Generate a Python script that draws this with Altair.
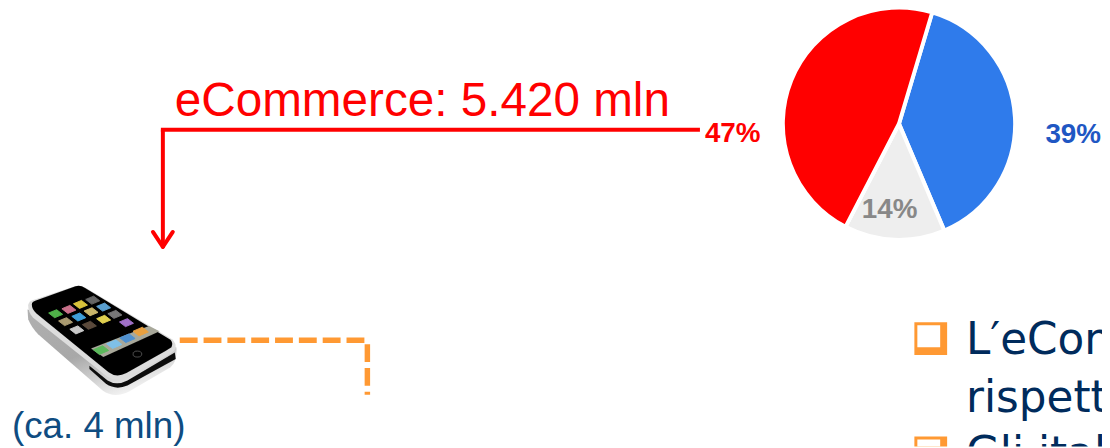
import urllib.parse
import altair as alt
import pandas as pd

shares = [39, 14, 47]
share_labels = ["39%", "14%", "47%"]
share_order = [0, 1, 2]
share_colors = ["#2F7BEB", "#EEEEEE", "#FF0000"]
headline = "eCommerce: 5.420 mln"
phone_note = "(ca. 4 mln)"
bullets = ["L\u2032eCommerce", "rispetto", "Gli italiani"]

ORANGE = "#FF9933"
RED = "#FF0000"
OX, OY = 8, 8  # page margin


def X(v):
    return alt.value(v - OX)


def Y(v):
    return alt.value(v - OY)


one = pd.DataFrame({"k": [0]})


def rule(x1, y1, x2, y2, color, w, dash=None, cap="butt"):
    kw = dict(color=color, strokeWidth=w, strokeCap=cap)
    if dash:
        kw["strokeDash"] = dash
    return alt.Chart(one).mark_rule(**kw).encode(x=X(x1), x2=X(x2), y=Y(y1), y2=Y(y2))


def label(txt, x, y, size, color, weight="normal", align="left", font="Liberation Sans"):
    return alt.Chart(one).mark_text(
        text=txt, fontSize=size, color=color, fontWeight=weight, align=align,
        baseline="alphabetic", font=font, clip=True,
    ).encode(x=X(x), y=Y(y))


def box(x1, y1, x2, y2, color):
    return alt.Chart(one).mark_rect(color=color, clip=True).encode(x=X(x1), x2=X(x2), y=Y(y1), y2=Y(y2))


pie_df = pd.DataFrame({"share": shares, "label": share_labels, "o": share_order})
pie = alt.Chart(pie_df).mark_arc(outerRadius=117, stroke="white", strokeWidth=4).encode(
    theta=alt.Theta("share:Q", stack=True, scale=alt.Scale(domain=[0, 100], range=[0.29, 6.573])),
    order=alt.Order("o:Q"),
    color=alt.Color("label:N", scale=alt.Scale(domain=share_labels, range=share_colors), legend=None),
    x=X(905.5), y=Y(123),
)


def para(cx, cy, ux, uy, vx, vy, fill):
    pts = [
        (cx - ux - vx, cy - uy - vy), (cx + ux - vx, cy + uy - vy),
        (cx + ux + vx, cy + uy + vy), (cx - ux + vx, cy - uy + vy),
    ]
    s = " ".join(f"{a:.1f},{b:.1f}" for a, b in pts)
    return f'<polygon points="{s}" fill="{fill}" stroke="{fill}" stroke-width="3" stroke-linejoin="round"/>'


icons = [
    (168, 133, "#4fb04a"), (208, 120, "#c9708a"), (243, 105, "#d8c23a"), (280, 92, "#666666"),
    (198, 157, "#a99a70"), (238, 143, "#3f9fd8"), (275, 127, "#c9b56a"), (313, 113, "#5a9fd0"),
    (232, 182, "#c8c8c8"), (270, 168, "#5a4a3a"), (313, 150, "#e0d050"), (347, 135, "#777777"),
    (382, 160, "#a070c8"),
]
dock = [(305, 243, "#5cb85c"), (345, 225, "#7fc0e8"), (385, 207, "#4f90d0"), (425, 187, "#e8a040")]
rects = "".join(para(x, y, 12, -5, 9, 7, c) for x, y, c in icons)
rects += "".join(para(x, y, 14, -6, 9, 7, c) for x, y, c in dock)
svg = (
    '<svg xmlns="http://www.w3.org/2000/svg" viewBox="60 30 495 366" width="165" height="122">'
    '<defs><linearGradient id="g" x1="0" y1="0" x2="0.6" y2="1">'
    '<stop offset="0" stop-color="#b0b0b0"/><stop offset="0.55" stop-color="#a8a8a8"/><stop offset="1" stop-color="#f0f0f0"/>'
    '</linearGradient><filter id="b"><feGaussianBlur stdDeviation="1.5"/></filter></defs>'
    '<g filter="url(#b)">'
    '<path d="M83,120 L85,150 Q95,175 115,195 L310,365 Q345,390 390,368 L515,295 Q535,280 533,235 Z" fill="url(#g)"/>'
    '<path d="M270,290 L325,335 Q352,352 385,335 L528,250 L531,270 L385,350 Q350,365 320,345 L270,300 Z" fill="#111111"/>'
    '<path d="M85,108 Q85,98 98,92 L225,50 Q243,45 260,55 L520,210 Q533,222 530,238 Q525,248 505,260 L385,325 Q352,342 322,322 L100,145 Q85,130 85,108 Z" fill="#dddddd"/>'
    '<path d="M96,105 Q96,98 106,94 L228,50 Q243,46 257,55 L515,212 Q524,222 518,234 L500,246 L382,312 Q352,328 328,310 L110,132 Q96,120 96,105 Z" fill="#060606"/>'
    '<path d="M275,238 L450,170 L482,186 L312,264 Z" fill="#a8a89a"/>'
    f'{rects}'
    '<ellipse cx="415" cy="255" rx="13" ry="9" fill="none" stroke="#666666" stroke-width="2"/>'
    '</g></svg>'
)
phone = alt.Chart(one).mark_image(
    url="data:image/svg+xml," + urllib.parse.quote(svg),
    width=165, height=122, align="left", baseline="top",
).encode(x=X(20), y=Y(280))

layers = [
    pie,
    label(share_labels[2], 710, 141, 28, RED, "bold"),
    label(share_labels[0], 1053, 142, 28, "#1F57C3", "bold"),
    label(share_labels[1], 868, 218, 28, "#888888", "bold"),
    label(headline, 176, 115, 48, RED),
    rule(162, 129, 705, 129, RED, 4),
    rule(164, 129, 164, 246, RED, 4),
    rule(154, 232, 164, 247, RED, 4, cap="round"),
    rule(174, 232, 164, 247, RED, 4, cap="round"),
    phone,
    rule(181, 341, 368, 341, ORANGE, 5.5, dash=[18, 6]),
    rule(370, 345, 370, 396, ORANGE, 5.5, dash=[18, 6]),
    label(phone_note, 12, 440, 37, "#0F4C81"),
    box(921, 323, 954, 356, ORANGE),
    box(924, 326, 947, 348, "white"),
    box(921, 438, 954, 471, ORANGE),
    box(924, 441, 947, 463, "white"),
    label(bullets[0], 973, 355, 44, "#002B5C", font="DejaVu Sans"),
    label(bullets[1], 973, 413, 44, "#002B5C", font="DejaVu Sans"),
    label(bullets[2], 973, 470, 44, "#002B5C", font="DejaVu Sans"),
]

chart = alt.layer(*layers).properties(
    width=1102, height=440, padding=0,
    autosize=alt.AutoSizeParams(type="none"),
    background="white",
).configure_view(stroke=None)

chart.save("out.html", embed_options={"renderer": "svg", "actions": False})
